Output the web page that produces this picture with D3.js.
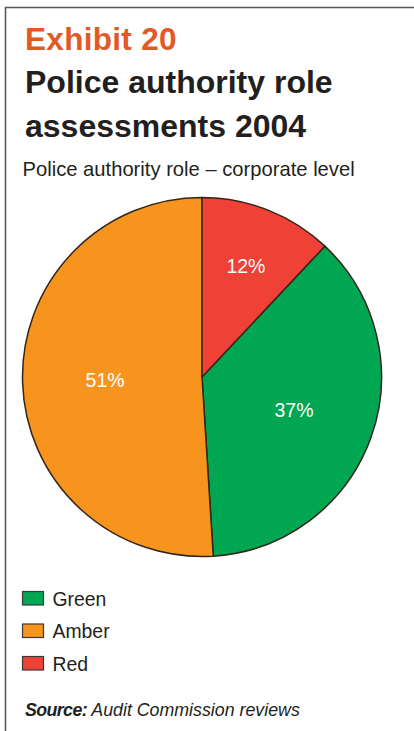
<!DOCTYPE html>
<html>
<head>
<meta charset="utf-8">
<script src="https://cdn.jsdelivr.net/npm/d3@7"></script>
<style>
  html, body { margin: 0; padding: 0; background: #fff; }
  svg { display: block; }
  text { font-family: "Liberation Sans", Arial, Helvetica, sans-serif; }
</style>
</head>
<body>
<svg id="chart" width="414" height="731"></svg>
<script>
// Assessment shares, in legend order
const categories = ["Green", "Amber", "Red"];
const values = [37, 51, 12];
const valueLabels = ["37%", "51%", "12%"];

const exhibitLabel = "Exhibit 20";
const titleLines = ["Police authority role", "assessments 2004"];
const subtitle = "Police authority role \u2013 corporate level";
const sourceLead = "Source:";
const sourceText = " Audit Commission reviews";

// Styling
const colours = { Green: "#00a651", Amber: "#f7941d", Red: "#ef4136" };
const labelRadiusFactor = { Green: 0.545, Amber: 0.54, Red: 0.665 };

const W = 414, H = 731;
const svg = d3.select("#chart");

// Frame: rule along the top and down the left side
svg.append("path")
  .attr("d", d3.line()([[5.5, H], [5.5, 7.5], [W, 7.5]]))
  .attr("fill", "none")
  .attr("stroke", "#58595b")
  .attr("stroke-width", 1.6);

// Headings
svg.append("text")
  .attr("x", 25).attr("y", 49.5)
  .attr("fill", "#e15a26")
  .attr("font-size", 31.5).attr("font-weight", "bold")
  .attr("letter-spacing", 0.3)
  .text(exhibitLabel);

svg.selectAll("text.title")
  .data(titleLines)
  .join("text")
  .attr("class", "title")
  .attr("x", 25)
  .attr("y", (d, i) => 93 + i * 44)
  .attr("fill", "#231f20")
  .attr("font-size", 32).attr("font-weight", "bold")
  .text(d => d);

svg.append("text")
  .attr("x", 22.5).attr("y", 176)
  .attr("fill", "#231f20")
  .attr("font-size", 20.2)
  .text(subtitle);

// Pie
const cx = 202, cy = 377, R = 179.5;
const total = d3.sum(values);
const redIndex = categories.indexOf("Red");
const start = values[redIndex] / total * 2 * Math.PI;

const pie = d3.pie().sort(null).value(d => d.value)
  .startAngle(start).endAngle(start + 2 * Math.PI);

const rows = categories.map((c, i) => ({ name: c, value: values[i], label: valueLabels[i] }));
const arcs = pie(rows);
const arc = d3.arc().innerRadius(0).outerRadius(R);

const g = svg.append("g").attr("transform", `translate(${cx},${cy})`);

g.selectAll("path.slice")
  .data(arcs)
  .join("path")
  .attr("class", "slice")
  .attr("d", arc)
  .attr("fill", d => colours[d.data.name])
  .attr("stroke", "#33261c")
  .attr("stroke-width", 1.5)
  .attr("stroke-linejoin", "round");

g.selectAll("text.value")
  .data(arcs)
  .join("text")
  .attr("class", "value")
  .attr("transform", d => {
    const r = R * labelRadiusFactor[d.data.name];
    const a = (d.startAngle + d.endAngle) / 2;
    return `translate(${r * Math.sin(a)},${-r * Math.cos(a)})`;
  })
  .attr("text-anchor", "middle")
  .attr("dy", "0.36em")
  .attr("fill", "#ffffff")
  .attr("font-size", 19.5)
  .text(d => d.data.label);

// Legend
const legend = svg.append("g").attr("transform", "translate(22,591)");
const item = legend.selectAll("g.item")
  .data(categories)
  .join("g")
  .attr("class", "item")
  .attr("transform", (d, i) => `translate(0,${i * 32.5})`);

item.append("rect")
  .attr("x", 0.5).attr("y", 0.5)
  .attr("width", 21).attr("height", 13.5)
  .attr("fill", d => colours[d])
  .attr("stroke", "#3a3a3a")
  .attr("stroke-width", 1.2);

item.append("text")
  .attr("x", 30.5).attr("y", 14.5)
  .attr("fill", "#231f20")
  .attr("font-size", 19.4)
  .text(d => d);

// Source line
const src = svg.append("text")
  .attr("x", 25).attr("y", 716)
  .attr("fill", "#231f20")
  .attr("font-size", 17.8)
  .attr("font-style", "italic");
src.append("tspan").attr("font-weight", "bold").attr("letter-spacing", -0.6).text(sourceLead);
src.append("tspan").text(sourceText);
</script>
</body>
</html>
